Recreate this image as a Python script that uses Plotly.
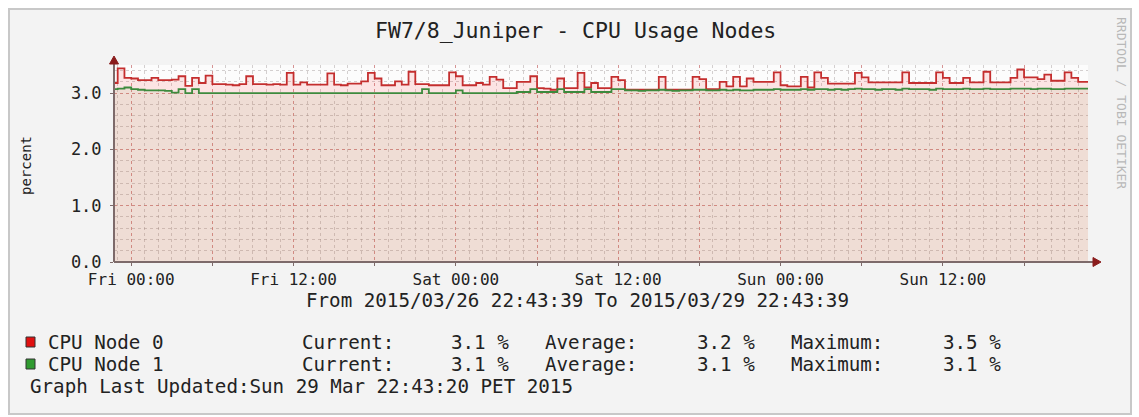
import pandas as pd
import plotly.graph_objects as go

# ---------------- data ----------------
start_time = "2015-03-26 22:43:39"
end_time = "2015-03-29 22:43:39"
sample_start = "2015-03-26 22:30"
n_samples = 146
step = "30min"

cpu_node0 = [
    3.18, 3.44, 3.27, 3.26, 3.23, 3.23, 3.27, 3.23, 3.23, 3.24,
    3.30, 3.13, 3.27, 3.18, 3.31, 3.16, 3.16, 3.15, 3.14, 3.16,
    3.30, 3.16, 3.16, 3.15, 3.16, 3.15, 3.36, 3.15, 3.19, 3.15,
    3.15, 3.15, 3.35, 3.15, 3.14, 3.17, 3.17, 3.21, 3.36, 3.26,
    3.14, 3.14, 3.21, 3.15, 3.38, 3.16, 3.16, 3.14, 3.14, 3.14,
    3.37, 3.30, 3.14, 3.14, 3.18, 3.15, 3.29, 3.24, 3.09, 3.09,
    3.20, 3.20, 3.30, 3.09, 3.08, 3.06, 3.26, 3.09, 3.09, 3.36,
    3.10, 3.18, 3.09, 3.09, 3.29, 3.23, 3.06, 3.06, 3.06, 3.06,
    3.06, 3.29, 3.06, 3.06, 3.06, 3.06, 3.29, 3.25, 3.07, 3.07,
    3.20, 3.12, 3.29, 3.12, 3.26, 3.20, 3.20, 3.20, 3.37, 3.14,
    3.12, 3.12, 3.29, 3.10, 3.37, 3.27, 3.17, 3.17, 3.17, 3.17,
    3.36, 3.28, 3.19, 3.19, 3.19, 3.19, 3.19, 3.37, 3.18, 3.18,
    3.18, 3.18, 3.37, 3.27, 3.18, 3.18, 3.27, 3.19, 3.19, 3.38,
    3.19, 3.19, 3.19, 3.27, 3.42, 3.28, 3.28, 3.25, 3.33, 3.22,
    3.22, 3.37, 3.27, 3.20, 3.20, 3.20,
]

cpu_node1 = [
    3.07, 3.08, 3.10, 3.07, 3.06, 3.05, 3.05, 3.05, 3.04, 3.01,
    3.07, 3.00, 3.07, 3.00, 3.00, 3.00, 3.00, 3.00, 3.00, 3.00,
    3.00, 3.00, 3.00, 3.00, 3.00, 3.00, 3.00, 3.00, 3.00, 3.00,
    3.00, 3.00, 3.00, 3.00, 3.00, 3.00, 3.00, 3.00, 3.00, 3.00,
    3.00, 3.00, 3.00, 3.00, 3.00, 3.00, 3.07, 3.00, 3.00, 3.00,
    3.00, 3.05, 3.00, 3.00, 3.00, 3.00, 3.00, 3.00, 3.00, 3.00,
    3.02, 3.02, 3.07, 3.02, 3.02, 3.02, 3.07, 3.02, 3.02, 3.02,
    3.07, 3.02, 3.02, 3.02, 3.07, 3.07, 3.05, 3.05, 3.04, 3.05,
    3.05, 3.06, 3.05, 3.04, 3.05, 3.05, 3.06, 3.06, 3.05, 3.05,
    3.06, 3.05, 3.06, 3.05, 3.05, 3.06, 3.06, 3.06, 3.07, 3.06,
    3.06, 3.06, 3.07, 3.06, 3.07, 3.07, 3.06, 3.07, 3.06, 3.07,
    3.08, 3.07, 3.07, 3.06, 3.07, 3.07, 3.06, 3.08, 3.07, 3.07,
    3.07, 3.06, 3.08, 3.07, 3.07, 3.07, 3.08, 3.07, 3.07, 3.08,
    3.07, 3.07, 3.07, 3.08, 3.08, 3.08, 3.07, 3.08, 3.08, 3.07,
    3.07, 3.08, 3.08, 3.08, 3.08, 3.08,
]

major_ticks = ["2015-03-27 00:00", "2015-03-27 06:00", "2015-03-27 12:00", "2015-03-27 18:00",
               "2015-03-28 00:00", "2015-03-28 06:00", "2015-03-28 12:00", "2015-03-28 18:00",
               "2015-03-29 00:00", "2015-03-29 06:00", "2015-03-29 12:00", "2015-03-29 18:00"]
major_labels = ["Fri 00:00", "", "Fri 12:00", "", "Sat 00:00", "", "Sat 12:00", "",
                "Sun 00:00", "", "Sun 12:00", ""]
y_ticks = [0, 1, 2, 3]
y_labels = ["0.0", "1.0", "2.0", "3.0"]

title_text = "FW7/8_Juniper - CPU Usage Nodes"
y_title = "percent"
range_text = "From 2015/03/26 22:43:39 To 2015/03/29 22:43:39"
series_names = ["CPU Node 0", "CPU Node 1"]
current_vals = ["3.1 %", "3.1 %"]
average_vals = ["3.2 %", "3.1 %"]
maximum_vals = ["3.5 %", "3.1 %"]
updated_text = "Graph Last Updated:Sun 29 Mar 22:43:20 PET 2015"
credit_text = "RRDTOOL / TOBI OETIKER"

# ---------------- layout helpers ----------------
W, H = 1139, 417
L, R, T, B = 114, 1088, 65, 262
MONO = "DejaVu Sans Mono"


def px(x):
    return (x - L) / (R - L)


def py(y):
    return (B - y) / (B - T)


times = pd.date_range(sample_start, periods=n_samples, freq=step)

fig = go.Figure()
fig.add_trace(go.Scatter(x=times, y=cpu_node0, mode="lines", line=dict(width=0, shape="hv"),
                         fill="tozeroy", fillcolor="rgba(255,60,60,0.12)", hoverinfo="skip",
                         showlegend=False))
fig.add_trace(go.Scatter(x=times, y=cpu_node1, mode="lines", line=dict(width=0, shape="hv"),
                         fill="tozeroy", fillcolor="rgba(110,150,70,0.09)", hoverinfo="skip",
                         showlegend=False))
fig.add_trace(go.Scatter(x=times, y=cpu_node0, mode="lines", name=series_names[0],
                         line=dict(color="#c42e2e", width=1.8, shape="hv"), showlegend=False))
fig.add_trace(go.Scatter(x=times, y=cpu_node1, mode="lines", name=series_names[1],
                         line=dict(color="#3d8a3d", width=1.8, shape="hv"), showlegend=False))

shapes = [
    dict(type="rect", xref="paper", yref="paper", x0=px(9), x1=px(1131), y0=py(414), y1=py(9),
         fillcolor="#f3f3f3", line=dict(color="#c8c8c8", width=2), layer="below"),
    dict(type="rect", xref="paper", yref="paper", x0=0, x1=1, y0=0, y1=1,
         fillcolor="#fcfcfc", line=dict(width=0), layer="below"),
    dict(type="line", xref="paper", yref="paper", x0=px(L), x1=px(1095), y0=0, y1=0,
         line=dict(color="#7d6a6a", width=2)),
    dict(type="line", xref="paper", yref="paper", x0=0, x1=0, y0=0, y1=py(60),
         line=dict(color="#7d6a6a", width=2)),
    dict(type="path", xref="paper", yref="paper",
         path=f"M {px(1093)} {py(257.5)} L {px(1101)} {py(262)} L {px(1093)} {py(266.5)} Z",
         fillcolor="#8a1c1c", line=dict(color="#8a1c1c", width=1)),
    dict(type="path", xref="paper", yref="paper",
         path=f"M {px(109.5)} {py(64)} L {px(114)} {py(56)} L {px(118.5)} {py(64)} Z",
         fillcolor="#8a1c1c", line=dict(color="#8a1c1c", width=1)),
]

LEG_FS = 19.2
rows_y = [342, 364]
box_colors = ["#e01010", "#2f9a2f"]
annotations = [
    dict(text=title_text, x=px(575), y=py(30), xref="paper", yref="paper", showarrow=False,
         xanchor="center", yanchor="middle", font=dict(family=MONO, size=21.5, color="#222")),
    dict(text=y_title, x=px(26), y=py(166), xref="paper", yref="paper", showarrow=False,
         textangle=-90, xanchor="center", yanchor="middle",
         font=dict(family=MONO, size=14, color="#222")),
    dict(text=range_text, x=px(577), y=py(300), xref="paper", yref="paper", showarrow=False,
         xanchor="center", yanchor="middle", font=dict(family=MONO, size=LEG_FS, color="#222")),
    dict(text=updated_text, x=px(28), y=py(386), xref="paper", yref="paper", showarrow=False,
         xanchor="left", yanchor="middle", font=dict(family=MONO, size=LEG_FS, color="#222")),
    dict(text=credit_text, x=px(1122), y=py(103), xref="paper", yref="paper", showarrow=False,
         textangle=90, xanchor="center", yanchor="middle",
         font=dict(family=MONO, size=13, color="#b8b8b8")),
]
cols = [(46, series_names), (300, ["Current:"] * 2), (449, current_vals),
        (543, ["Average:"] * 2), (695, average_vals), (789, ["Maximum:"] * 2), (941, maximum_vals)]
for r, yrow in enumerate(rows_y):
    shapes.append(dict(type="rect", xref="paper", yref="paper", x0=px(26), x1=px(35),
                       y0=py(yrow + 5), y1=py(yrow - 5), fillcolor=box_colors[r],
                       line=dict(color="#333", width=1)))
    for xc, vals in cols:
        annotations.append(dict(text=vals[r], x=px(xc), y=py(yrow), xref="paper", yref="paper",
                                showarrow=False, xanchor="left", yanchor="middle",
                                font=dict(family=MONO, size=LEG_FS, color="#222")))

fig.update_layout(
    width=W, height=H, autosize=False,
    margin=dict(l=L, r=W - R, t=T, b=H - B, pad=0),
    paper_bgcolor="white", plot_bgcolor="#fcfcfc",
    showlegend=False,
    shapes=shapes, annotations=annotations,
    font=dict(family=MONO, size=16, color="#222"),
)
fig.update_xaxes(
    type="date", range=[start_time, end_time],
    tickmode="array", tickvals=major_ticks, ticktext=major_labels,
    showgrid=True, gridcolor="rgba(215,110,110,0.6)", griddash="dot", gridwidth=1,
    ticks="outside", ticklen=3, tickcolor="#7d6a6a",
    tickfont=dict(family=MONO, size=16, color="#222"),
    minor=dict(tickmode="linear", tick0="2015-03-27 00:00", dtick=3600000, showgrid=True,
               gridcolor="rgba(150,140,140,0.4)", griddash="dot", gridwidth=1),
    showline=False, zeroline=False, fixedrange=True,
)
fig.update_yaxes(
    range=[0, 3.5], tickmode="array", tickvals=y_ticks, ticktext=y_labels,
    showgrid=True, gridcolor="rgba(215,110,110,0.6)", griddash="dot", gridwidth=1,
    ticks="outside", ticklen=3, tickcolor="#7d6a6a", ticklabelstandoff=5,
    tickfont=dict(family=MONO, size=17, color="#222"),
    minor=dict(tickmode="linear", tick0=0, dtick=0.2, showgrid=True,
               gridcolor="rgba(150,140,140,0.4)", griddash="dot", gridwidth=1),
    showline=False, zeroline=False, fixedrange=True,
)

fig.write_html("out.html", config={"displayModeBar": False},
               post_script="document.body.style.margin='0';")
